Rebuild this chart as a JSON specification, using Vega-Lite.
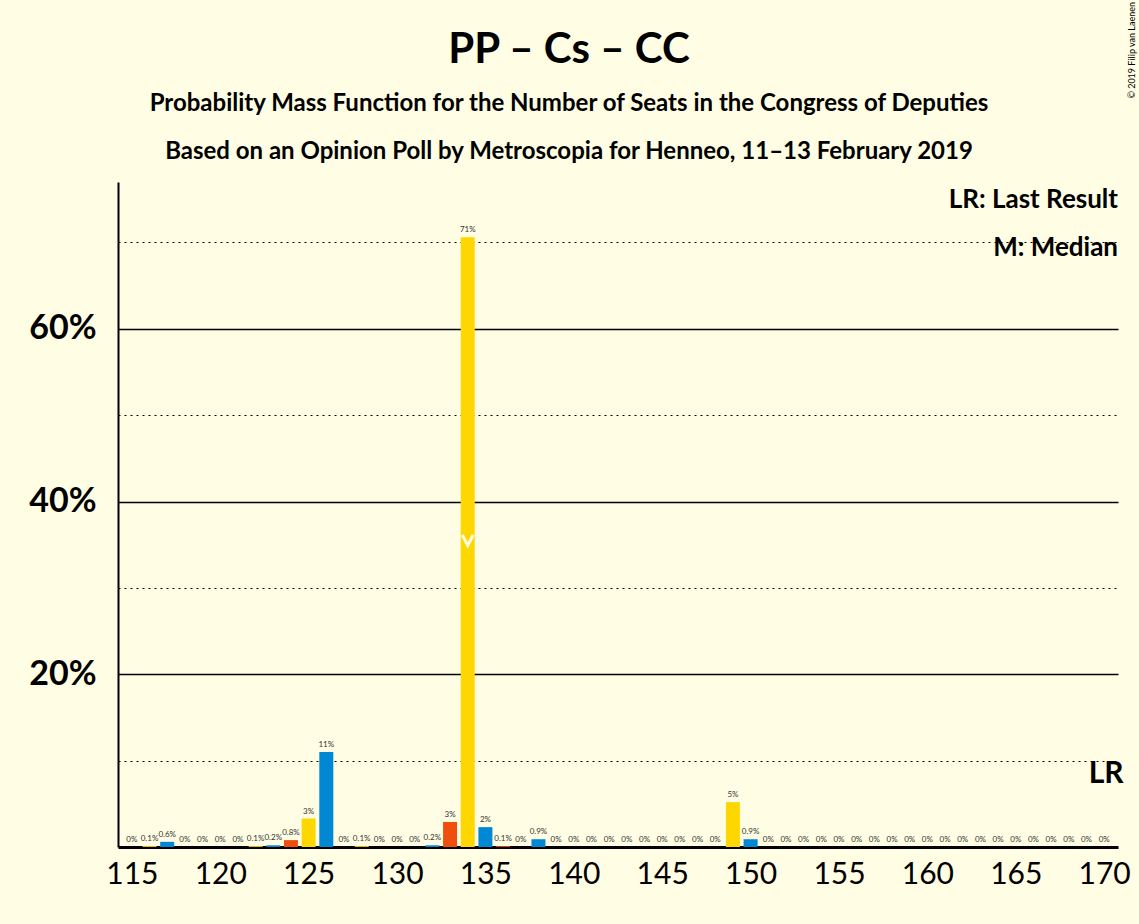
{
  "$schema": "https://vega.github.io/schema/vega-lite/v6.json",
  "autosize": "none",
  "width": 1000,
  "height": 665,
  "padding": {"left": 118, "top": 182, "right": 21, "bottom": 77},
  "background": "#FFFDE3",
  "config": {"view": {"stroke": null}, "font": "Lato"},
  "datasets": {
    "seats": [
      {"seat": 115, "p": 0, "label": "0%"},
      {"seat": 116, "p": 0.1, "label": "0.1%"},
      {"seat": 117, "p": 0.6, "label": "0.6%"},
      {"seat": 118, "p": 0, "label": "0%"},
      {"seat": 119, "p": 0, "label": "0%"},
      {"seat": 120, "p": 0, "label": "0%"},
      {"seat": 121, "p": 0, "label": "0%"},
      {"seat": 122, "p": 0.1, "label": "0.1%"},
      {"seat": 123, "p": 0.2, "label": "0.2%"},
      {"seat": 124, "p": 0.8, "label": "0.8%"},
      {"seat": 125, "p": 3.3, "label": "3%"},
      {"seat": 126, "p": 11.0, "label": "11%"},
      {"seat": 127, "p": 0, "label": "0%"},
      {"seat": 128, "p": 0.1, "label": "0.1%"},
      {"seat": 129, "p": 0, "label": "0%"},
      {"seat": 130, "p": 0, "label": "0%"},
      {"seat": 131, "p": 0, "label": "0%"},
      {"seat": 132, "p": 0.2, "label": "0.2%"},
      {"seat": 133, "p": 2.9, "label": "3%"},
      {"seat": 134, "p": 70.6, "label": "71%"},
      {"seat": 135, "p": 2.3, "label": "2%"},
      {"seat": 136, "p": 0.1, "label": "0.1%"},
      {"seat": 137, "p": 0, "label": "0%"},
      {"seat": 138, "p": 0.9, "label": "0.9%"},
      {"seat": 139, "p": 0, "label": "0%"},
      {"seat": 140, "p": 0, "label": "0%"},
      {"seat": 141, "p": 0, "label": "0%"},
      {"seat": 142, "p": 0, "label": "0%"},
      {"seat": 143, "p": 0, "label": "0%"},
      {"seat": 144, "p": 0, "label": "0%"},
      {"seat": 145, "p": 0, "label": "0%"},
      {"seat": 146, "p": 0, "label": "0%"},
      {"seat": 147, "p": 0, "label": "0%"},
      {"seat": 148, "p": 0, "label": "0%"},
      {"seat": 149, "p": 5.2, "label": "5%"},
      {"seat": 150, "p": 0.9, "label": "0.9%"},
      {"seat": 151, "p": 0, "label": "0%"},
      {"seat": 152, "p": 0, "label": "0%"},
      {"seat": 153, "p": 0, "label": "0%"},
      {"seat": 154, "p": 0, "label": "0%"},
      {"seat": 155, "p": 0, "label": "0%"},
      {"seat": 156, "p": 0, "label": "0%"},
      {"seat": 157, "p": 0, "label": "0%"},
      {"seat": 158, "p": 0, "label": "0%"},
      {"seat": 159, "p": 0, "label": "0%"},
      {"seat": 160, "p": 0, "label": "0%"},
      {"seat": 161, "p": 0, "label": "0%"},
      {"seat": 162, "p": 0, "label": "0%"},
      {"seat": 163, "p": 0, "label": "0%"},
      {"seat": 164, "p": 0, "label": "0%"},
      {"seat": 165, "p": 0, "label": "0%"},
      {"seat": 166, "p": 0, "label": "0%"},
      {"seat": 167, "p": 0, "label": "0%"},
      {"seat": 168, "p": 0, "label": "0%"},
      {"seat": 169, "p": 0, "label": "0%"},
      {"seat": 170, "p": 0, "label": "0%"}
    ]
  },
  "layer": [
    {
      "data": {"name": "seats"},
      "transform": [{"calculate": "datum.seat % 3", "as": "grp"}],
      "mark": {"type": "bar", "size": 14},
      "encoding": {
        "x": {"field": "seat", "type": "quantitative",
          "scale": {"domain": [114.5, 170.5], "nice": false, "zero": false},
          "axis": {"values": [115, 120, 125, 130, 135, 140, 145, 150, 155, 160, 165, 170], "title": null, "grid": false, "ticks": false,
            "labelFontSize": 30, "labelFont": "Lato", "labelColor": "#000", "labelPadding": 12,
            "domainColor": "#000", "domainWidth": 3}},
        "y": {"field": "p", "type": "quantitative",
          "scale": {"domain": [0, 77], "nice": false},
          "axis": {"values": [10, 20, 30, 40, 50, 60, 70], "title": null, "ticks": false,
            "labelExpr": "datum.value % 20 == 0 ? datum.value + '%' : ''",
            "labelFontSize": 34, "labelFontWeight": "bold", "labelFont": "Lato", "labelColor": "#000", "labelPadding": 22,
            "domainColor": "#000", "domainWidth": 2,
            "gridColor": "#000", "gridWidth": {"condition": {"test": "datum.value % 20 == 0", "value": 1.5}, "value": 1.2},
            "gridDash": {"condition": {"test": "datum.value % 20 == 10", "value": [2, 4]}, "value": []}}},
        "color": {"field": "grp", "type": "nominal", "legend": null,
          "scale": {"domain": [0, 1, 2], "range": ["#0088D5", "#F04E0D", "#FFD700"]}}
      }
    },
    {
      "data": {"name": "seats"},
      "mark": {"type": "text", "fontSize": 8, "dy": -7, "font": "Lato", "color": "#333"},
      "encoding": {
        "x": {"field": "seat", "type": "quantitative"},
        "y": {"field": "p", "type": "quantitative"},
        "text": {"field": "label"}
      }
    },
    {
      "data": {"values": [{"seat": 134, "p": 35.3}]},
      "mark": {"type": "point", "shape": "M-1,-1.3L0,0.6L1,-1.3", "filled": false, "stroke": "#FFFDE3", "strokeWidth": 3, "size": 120, "opacity": 1},
      "encoding": {
        "x": {"field": "seat", "type": "quantitative"},
        "y": {"field": "p", "type": "quantitative"}
      }
    },
    {
      "data": {"values": [{"seat": 170, "p": 8.5, "t": "LR"}]},
      "mark": {"type": "text", "fontSize": 30, "fontWeight": "bold", "font": "Lato", "align": "center", "dx": 2},
      "encoding": {
        "x": {"field": "seat", "type": "quantitative"},
        "y": {"field": "p", "type": "quantitative"},
        "text": {"field": "t"}
      }
    },
    {
      "data": {"values": [{"t": "LR: Last Result"}]},
      "mark": {"type": "text", "fontSize": 26, "fontWeight": "bold", "font": "Lato", "align": "right", "x": "width", "y": 18, "baseline": "middle"},
      "encoding": {"text": {"field": "t"}}
    },
    {
      "data": {"values": [{"t": "M: Median"}]},
      "mark": {"type": "text", "fontSize": 26, "fontWeight": "bold", "font": "Lato", "align": "right", "x": "width", "y": 66, "baseline": "middle"},
      "encoding": {"text": {"field": "t"}}
    },
    {
      "data": {"values": [{"t": "PP – Cs – CC"}]},
      "mark": {"type": "text", "fontSize": 42, "fontWeight": "bold", "font": "Lato", "align": "center", "x": 451, "y": -132, "baseline": "middle"},
      "encoding": {"text": {"field": "t"}}
    },
    {
      "data": {"values": [{"t": "Probability Mass Function for the Number of Seats in the Congress of Deputies"}]},
      "mark": {"type": "text", "fontSize": 24, "fontWeight": "bold", "font": "Lato", "align": "center", "x": 451, "y": -78, "baseline": "middle"},
      "encoding": {"text": {"field": "t"}}
    },
    {
      "data": {"values": [{"t": "Based on an Opinion Poll by Metroscopia for Henneo, 11–13 February 2019"}]},
      "mark": {"type": "text", "fontSize": 24, "fontWeight": "bold", "font": "Lato", "align": "center", "x": 451, "y": -30, "baseline": "middle"},
      "encoding": {"text": {"field": "t"}}
    },
    {
      "data": {"values": [{"t": "© 2019 Filip van Laenen"}]},
      "mark": {"type": "text", "fontSize": 9, "font": "Lato", "angle": 270, "align": "right", "baseline": "middle", "x": 1014, "y": -180},
      "encoding": {"text": {"field": "t"}}
    }
  ]
}
